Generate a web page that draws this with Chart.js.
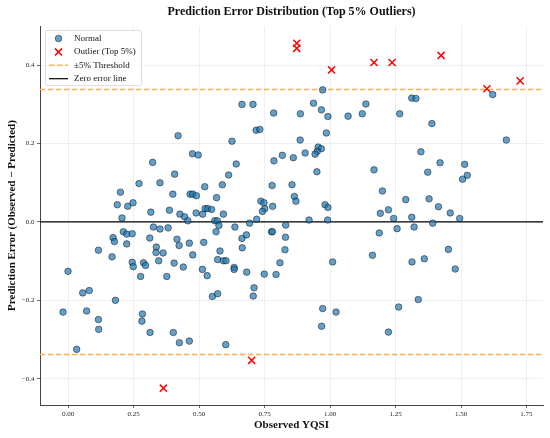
<!DOCTYPE html>
<html>
<head>
<meta charset="utf-8">
<script src="https://cdn.jsdelivr.net/npm/chart.js@4.4.1/dist/chart.umd.min.js"></script>
<style>
    html, body { margin: 0; padding: 0; background: #fff; }
    #wrap { width: 550px; height: 438px; }
</style>
</head>
<body>
<div id="wrap"><canvas id="error-chart"></canvas></div>
<script>
const X_TICKS = [0, 0.25, 0.5, 0.75, 1.0, 1.25, 1.5, 1.75];
const Y_TICKS = [-0.4, -0.2, 0, 0.2, 0.4];
const X_RANGE = [-0.107, 1.813];
const Y_RANGE = [-0.467, 0.5];
const THRESHOLD = 0.338;

// [observed, error]
const normalPoints = [
    [-0.019, -0.230], [0.000, -0.126], [0.033, -0.325], [0.056, -0.181], [0.081, -0.175],
    [0.071, -0.227], [0.116, -0.249], [0.117, -0.274], [0.116, -0.072], [0.168, -0.089],
    [0.181, -0.200], [0.172, -0.040], [0.177, -0.050], [0.206, 0.010], [0.211, -0.025],
    [0.224, -0.031], [0.224, -0.056], [0.245, -0.030], [0.245, -0.103], [0.249, -0.114],
    [0.277, -0.139], [0.288, -0.104], [0.296, -0.111], [0.284, -0.235], [0.282, -0.253],
    [0.313, -0.282], [0.312, -0.041], [0.326, -0.013], [0.351, -0.018], [0.382, -0.015],
    [0.337, -0.064], [0.336, -0.078], [0.363, -0.079], [0.346, -0.099], [0.377, -0.139],
    [0.416, -0.044], [0.424, -0.060], [0.405, -0.105], [0.440, -0.115], [0.402, -0.282],
    [0.425, -0.308], [0.463, -0.304], [0.463, -0.054], [0.476, -0.084], [0.513, -0.121],
    [0.518, -0.052], [0.531, -0.137], [0.551, -0.190], [0.571, -0.183], [0.565, -0.025],
    [0.560, 0.003], [0.570, 0.003], [0.576, -0.009], [0.580, -0.074], [0.571, -0.096],
    [0.593, -0.099], [0.603, -0.099], [0.602, -0.313], [0.634, -0.116], [0.634, -0.121],
    [0.637, -0.013], [0.664, -0.042], [0.665, -0.066], [0.681, -0.033], [0.682, -0.128],
    [0.693, -0.003], [0.710, -0.168], [0.707, -0.189], [0.749, -0.133], [0.777, -0.025],
    [0.794, -0.134], [0.720, 0.007],
    [0.420, 0.220], [0.475, 0.174], [0.497, 0.171], [0.323, 0.152], [0.407, 0.122],
    [0.271, 0.098], [0.351, 0.100], [0.522, 0.090], [0.200, 0.076], [0.400, 0.071],
    [0.466, 0.071], [0.476, 0.071], [0.490, 0.067], [0.188, 0.044], [0.228, 0.040],
    [0.248, 0.049], [0.316, 0.025], [0.387, 0.030], [0.427, 0.020], [0.445, 0.013],
    [0.457, 0.003], [0.489, 0.023], [0.514, 0.020], [0.523, 0.034], [0.533, 0.034],
    [0.548, 0.032], [0.664, 0.300], [0.706, 0.300], [0.785, 0.278], [0.626, 0.206],
    [0.718, 0.234], [0.732, 0.236], [0.642, 0.148], [0.613, 0.120], [0.589, 0.095],
    [0.567, 0.062], [0.593, 0.020], [0.736, 0.053], [0.748, 0.049], [0.751, 0.034],
    [0.742, 0.027], [0.779, 0.093], [0.781, 0.040], [0.786, 0.156],
    [0.972, 0.337], [1.621, 0.325], [1.312, 0.316], [1.328, 0.315], [0.937, 0.303],
    [1.137, 0.301], [0.967, 0.286], [0.887, 0.276], [0.992, 0.269], [1.069, 0.270],
    [1.123, 0.276], [1.266, 0.276], [1.389, 0.251], [0.986, 0.227], [0.886, 0.209],
    [1.673, 0.209], [0.955, 0.191], [0.967, 0.187], [0.951, 0.180], [0.943, 0.173],
    [0.905, 0.176], [0.818, 0.170], [0.860, 0.164], [1.347, 0.179], [1.420, 0.151],
    [1.514, 0.147], [1.524, 0.119], [1.506, 0.109], [1.373, 0.127], [1.168, 0.133],
    [0.950, 0.128], [0.855, 0.095], [0.864, 0.065], [0.870, 0.053], [0.981, 0.044],
    [0.992, 0.037], [1.200, 0.079], [1.289, 0.057], [1.378, 0.059], [1.414, 0.039],
    [1.192, 0.022], [1.223, 0.031], [1.243, 0.009], [1.312, 0.012], [1.459, 0.023],
    [1.495, 0.009], [0.920, 0.005], [0.991, 0.005], [1.392, -0.003], [0.831, -0.008],
    [1.188, -0.028], [1.256, -0.017], [1.321, -0.013], [0.830, -0.039], [0.828, -0.071],
    [0.809, -0.104], [1.452, -0.070], [1.162, -0.085], [1.010, -0.102], [1.313, -0.102],
    [1.360, -0.094], [1.478, -0.120], [1.337, -0.198], [0.972, -0.221], [1.023, -0.230],
    [1.262, -0.217], [0.968, -0.266], [1.223, -0.281], [0.780, -0.025]
];

const outlierPoints = [
    [0.873, 0.456], [0.873, 0.443], [1.006, 0.388], [1.168, 0.407], [1.237, 0.407],
    [1.424, 0.425], [1.599, 0.340], [1.726, 0.360], [0.701, -0.353], [0.364, -0.424]
];

const SERIF = '"Liberation Serif", "DejaVu Serif", serif';
const POINT_FILL = 'rgba(31,119,180,0.7)';
const POINT_EDGE = 'rgba(0,0,0,0.75)';
const THRESHOLD_COLOR = '#ffae4d';

const toXY = function (pairs) {
    return pairs.map(p => ({x: p[0], y: p[1]}));
};

const hLine = function (yValue) {
    return [{x: X_RANGE[0], y: yValue}, {x: X_RANGE[1], y: yValue}];
};

const lineDataset = function (yValue, color, width, dash) {
    return {
        type: 'line',
        data: hLine(yValue),
        borderColor: color,
        borderWidth: width,
        borderDash: dash,
        pointRadius: 0,
        fill: false,
        order: 3
    };
};

const legendItems = [
    {label: 'Normal', kind: 'circle'},
    {label: 'Outlier (Top 5%)', kind: 'cross'},
    {label: '\u00b15% Threshold', kind: 'dash'},
    {label: 'Zero error line', kind: 'line'}
];

// legend box in the upper-left corner of the plot
const innerLegend = {
    id: 'innerLegend',
    afterDraw(chart) {
        const {ctx, chartArea} = chart;
        const x0 = chartArea.left + 5.5;
        const y0 = chartArea.top + 4.5;
        const w = 96, h = 55;
        ctx.save();
        ctx.fillStyle = 'rgba(255,255,255,0.85)';
        ctx.strokeStyle = '#d6d6d6';
        ctx.lineWidth = 0.8;
        ctx.beginPath();
        ctx.roundRect(x0, y0, w, h, 2);
        ctx.fill();
        ctx.stroke();

        ctx.font = '9px ' + SERIF;
        ctx.textBaseline = 'middle';
        legendItems.forEach((item, i) => {
            const cy = y0 + 8 + i * 13.4;
            const hx = x0 + 13;
            if (item.kind === 'circle') {
                ctx.fillStyle = POINT_FILL;
                ctx.strokeStyle = POINT_EDGE;
                ctx.lineWidth = 0.6;
                Chart.helpers.drawPoint(ctx, {pointStyle: 'circle', radius: 3.3, borderWidth: 0.6}, hx, cy);
            } else if (item.kind === 'cross') {
                ctx.strokeStyle = '#ff0000';
                ctx.lineWidth = 1.5;
                Chart.helpers.drawPoint(ctx, {pointStyle: 'crossRot', radius: 5, borderWidth: 1.5}, hx, cy);
            } else {
                ctx.beginPath();
                ctx.lineWidth = item.kind === 'dash' ? 1.5 : 1.2;
                ctx.strokeStyle = item.kind === 'dash' ? THRESHOLD_COLOR : '#000';
                ctx.setLineDash(item.kind === 'dash' ? [5.5, 2.5] : []);
                ctx.moveTo(x0 + 3.5, cy);
                ctx.lineTo(x0 + 22.5, cy);
                ctx.stroke();
                ctx.setLineDash([]);
            }
            ctx.fillStyle = '#111';
            ctx.fillText(item.label, x0 + 28.5, cy);
        });
        ctx.restore();
    }
};

const ctx = document.getElementById('error-chart');

const errorChart = new Chart(ctx, {
    type: 'scatter',
    data: {
        datasets: [
            {
                label: 'Normal',
                data: toXY(normalPoints),
                backgroundColor: POINT_FILL,
                borderColor: POINT_EDGE,
                borderWidth: 0.6,
                pointRadius: 3.3,
                order: 2
            },
            {
                label: 'Outlier (Top 5%)',
                data: toXY(outlierPoints),
                pointStyle: 'crossRot',
                borderColor: '#ff0000',
                borderWidth: 1.5,
                pointRadius: 5,
                order: 1
            },
            lineDataset(THRESHOLD, THRESHOLD_COLOR, 1.5, [5.5, 2.5]),
            lineDataset(-THRESHOLD, THRESHOLD_COLOR, 1.5, [5.5, 2.5]),
            lineDataset(0, '#000000', 1.2, [])
        ]
    },
    options: {
        responsive: true,
        maintainAspectRatio: false,
        animation: false,
        layout: {
            padding: {left: 0, right: 7, top: 0, bottom: 0}
        },
        scales: {
            x: {
                type: 'linear',
                min: X_RANGE[0],
                max: X_RANGE[1],
                afterBuildTicks: function (scale) {
                    scale.ticks = X_TICKS.map(v => ({value: v}));
                },
                afterFit: function (scale) {
                    scale.height = 33;
                },
                grid: {
                    color: '#ebebeb',
                    lineWidth: 0.8,
                    drawTicks: true,
                    tickLength: 3,
                    tickColor: '#444',
                    tickWidth: 0.8
                },
                border: {
                    display: true,
                    color: '#444',
                    width: 1
                },
                ticks: {
                    padding: 1.5,
                    color: '#222',
                    font: {family: SERIF, size: 7},
                    callback: function (value) {
                        return value.toFixed(2);
                    }
                },
                title: {
                    display: true,
                    text: 'Observed YQSI',
                    color: '#111',
                    font: {family: SERIF, size: 11, weight: 'bold'},
                    padding: {top: 0, bottom: 6.4}
                }
            },
            y: {
                type: 'linear',
                min: Y_RANGE[0],
                max: Y_RANGE[1],
                afterBuildTicks: function (scale) {
                    scale.ticks = Y_TICKS.map(v => ({value: v}));
                },
                afterFit: function (scale) {
                    scale.width = 40;
                },
                grid: {
                    color: '#ebebeb',
                    lineWidth: 0.8,
                    drawTicks: true,
                    tickLength: 3,
                    tickColor: '#444',
                    tickWidth: 0.8
                },
                border: {
                    display: true,
                    color: '#444',
                    width: 1
                },
                ticks: {
                    padding: 2.5,
                    color: '#222',
                    font: {family: SERIF, size: 7},
                    callback: function (value) {
                        const s = Math.abs(value).toFixed(1);
                        return value < 0 ? '\u2212' + s : s;
                    }
                },
                title: {
                    display: true,
                    text: 'Prediction Error (Observed \u2212 Predicted)',
                    color: '#111',
                    font: {family: SERIF, size: 11, weight: 'bold'},
                    padding: {top: 5.4, bottom: 0}
                }
            }
        },
        plugins: {
            legend: {display: false},
            tooltip: {enabled: false},
            title: {
                display: true,
                fullSize: false,
                text: 'Prediction Error Distribution (Top 5% Outliers)',
                color: '#111',
                font: {family: SERIF, size: 12, weight: 'bold'},
                padding: {top: 4.5, bottom: 7.1}
            }
        }
    },
    plugins: [innerLegend]
});
</script>
</body>
</html>
